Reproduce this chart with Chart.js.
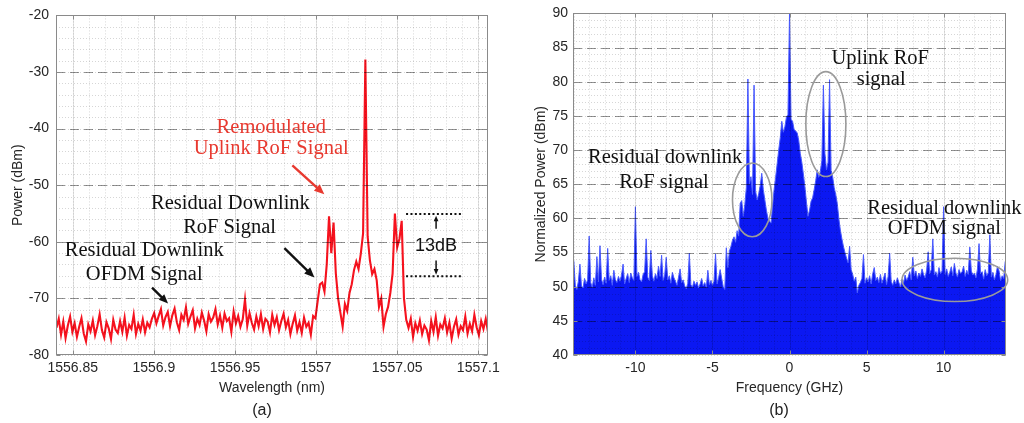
<!DOCTYPE html>
<html>
<head>
<meta charset="utf-8">
<script src="https://cdn.jsdelivr.net/npm/chart.js@4.4.0/dist/chart.umd.min.js"></script>
<style>
    body { margin: 0; background: #fff; }
    .panel { position: absolute; top: 0; width: 512px; height: 423px; }
    .cap { position: absolute; top: 410px; font: 16px "Liberation Sans", Arial, sans-serif; color: #222; transform: translate(-50%, -50%); }
</style>
</head>
<body>
<div class="panel" style="left:0"><canvas id="chartA" width="512" height="423"></canvas></div>
<div class="panel" style="left:512px"><canvas id="chartB" width="512" height="423"></canvas></div>
<div class="cap" style="left:262px">(a)</div>
<div class="cap" style="left:779px">(b)</div>
<script>
// ---- panel (a): optical spectrum, sampled every 0.0014 nm from 1556.84 nm
const wavelengthStart = 1556.84;
const wavelengthStep = 0.0014;
const powerDbm = [
    -75.2, -73.6, -76.4, -74.1, -77.0, -74.8, -73.2, -75.9, -74.4, -76.8,
    -75.0, -73.5, -76.2, -77.6, -74.6, -75.8, -73.9, -76.5, -74.9, -72.8,
    -75.6, -76.9, -74.2, -75.3, -77.2, -73.8, -75.5, -76.1, -74.0, -75.9,
    -73.4, -76.6, -74.7, -75.4, -72.9, -76.3, -74.5, -75.7, -73.7, -76.0,
    -74.3, -75.1, -73.6, -72.6, -74.4, -73.1, -71.9, -74.8, -73.3, -72.4,
    -74.9, -73.0, -71.8, -74.2, -75.6, -72.9, -73.8, -71.6, -74.5, -73.2,
    -72.1, -75.3, -73.6, -74.7, -72.5, -73.9, -75.8, -72.8, -74.1, -73.4,
    -71.9, -74.6, -73.0, -75.2, -72.7, -74.0, -73.5, -75.9, -72.3, -74.4,
    -73.1, -75.0, -73.7, -70.2, -74.8, -72.6, -74.3, -75.5, -73.2, -74.9,
    -72.8, -75.4, -73.6, -74.1, -76.0, -72.9, -74.7, -73.3, -75.6, -74.0,
    -72.7, -75.1, -73.8, -76.3, -74.5, -73.0, -75.7, -74.2, -76.1, -73.4,
    -75.0, -74.3, -76.4, -73.1, -73.5, -70.5, -67.5, -67.2, -68.8, -64.0,
    -55.5, -62.0, -56.6, -65.6, -70.0, -72.5, -75.0, -71.0, -72.2, -69.1,
    -67.5, -65.0, -63.5, -64.8, -62.1, -58.5, -27.8, -59.0, -63.3, -65.7,
    -64.8, -66.8, -71.5, -70.0, -75.0, -72.8, -71.5, -69.0, -65.6, -55.0,
    -61.0, -59.5, -56.3, -70.0, -73.8, -75.2, -73.6, -76.8, -74.4, -75.7,
    -73.9, -76.3, -74.8, -75.5, -77.4, -74.0, -75.9, -73.3, -76.6, -74.6,
    -75.3, -73.5, -76.0, -74.3, -77.1, -75.0, -73.7, -76.4, -74.9, -75.6,
    -73.2, -76.2, -74.5, -75.8, -72.9, -75.1, -76.5, -74.0, -75.4, -73.6, -75.9,
];
const wavelengthTicks = [1556.85, 1556.9, 1556.95, 1557, 1557.05, 1557.1];
const powerTicks = [-80, -70, -60, -50, -40, -30, -20];

// ---- panel (b): electrical spectrum, sampled every 0.1 GHz from -14 GHz
const freqStart = -14;
const freqStep = 0.1;
const normPowerDbm = [
    53.8, 50.2, 49.6, 50.8, 53.3, 50.1, 49.8, 51.2, 50.4, 51.0,
    57.4, 50.6, 49.9, 51.3, 50.2, 54.4, 50.7, 56.0, 51.1, 50.3,
    51.4, 50.5, 55.6, 50.9, 51.6, 50.2, 52.4, 51.0, 50.6, 51.5,
    50.8, 51.7, 53.3, 50.4, 51.2, 51.9, 50.6, 52.0, 51.3, 50.9,
    61.7, 51.5, 52.1, 51.0, 50.7, 51.8, 52.2, 57.0, 51.4, 50.9,
    55.3, 51.6, 50.8, 51.9, 51.2, 53.0, 51.5, 54.6, 50.9, 51.7,
    54.3, 51.0, 51.6, 50.5, 52.1, 51.3, 50.8, 50.2, 51.4, 52.6,
    50.6, 51.0, 50.1, 49.7, 50.5, 54.9, 50.3, 49.9, 50.8, 50.2,
    50.7, 49.8, 50.4, 51.2, 50.1, 50.6, 49.9, 52.4, 50.3, 50.9,
    50.2, 50.8, 54.8, 50.4, 51.3, 52.5, 51.2, 50.0, 49.6, 55.7,
    52.8, 55.2, 55.9, 56.8, 57.3, 56.5, 58.2, 57.4, 62.2, 62.6,
    60.3, 62.0, 64.5, 80.4, 65.0, 66.1, 63.5, 79.5, 64.0, 62.7,
    63.6, 64.8, 66.6, 64.2, 62.7, 61.2, 60.0, 59.6, 59.3, 61.8,
    64.2, 66.0, 68.0, 70.0, 71.8, 74.2, 72.6, 73.4, 74.8, 75.2,
    90.0, 74.5, 74.2, 73.0, 72.8, 72.5, 71.4, 69.5, 68.2, 66.5,
    64.6, 62.4, 60.3, 61.2, 62.5, 63.0, 64.2, 65.5, 67.1, 66.0,
    66.8, 68.5, 79.5, 69.5, 67.1, 68.2, 80.3, 67.0, 66.1, 64.5,
    63.5, 62.2, 60.0, 58.3, 57.0, 55.9, 55.0, 54.2, 53.5, 55.9,
    52.5, 51.8, 50.8, 51.4, 49.1, 50.2, 50.6, 51.2, 54.7, 50.5,
    51.3, 50.7, 51.6, 50.4, 51.9, 52.8, 50.9, 51.4, 50.6, 51.8,
    50.5, 51.2, 52.0, 50.3, 51.5, 54.9, 50.8, 50.2, 51.0, 50.4,
    51.3, 50.6, 49.9, 51.1, 50.5, 51.7, 50.9, 51.4, 52.2, 51.0,
    54.3, 51.6, 52.3, 51.2, 52.0, 51.5, 52.6, 51.8, 51.3, 52.4,
    55.1, 51.9, 52.5, 57.0, 51.7, 52.2, 51.4, 52.8, 51.9, 52.3,
    61.7, 51.8, 52.6, 51.5, 52.1, 52.9, 51.6, 53.4, 52.0, 51.4,
    52.5, 51.9, 52.2, 53.0, 51.5, 52.4, 51.8, 55.8, 52.3, 51.7,
    52.0, 51.3, 52.6, 56.3, 51.9, 52.2, 51.1, 52.5, 51.6, 52.0,
    57.6, 51.4, 52.1, 51.0, 51.8, 53.0, 52.3, 50.9, 51.6, 51.2, 53.7,
];
const freqTicks = [-10, -5, 0, 5, 10];
const normPowerTicks = [40, 45, 50, 55, 60, 65, 70, 75, 80, 85, 90];

const SANS = '"Liberation Sans", Arial, sans-serif';
const SERIF = '"Liberation Serif", "Times New Roman", serif';
const RED_TEXT = "#e8392f";
const NOTE_FONT = "20.5px " + SERIF;

Chart.defaults.font.family = SANS;
Chart.defaults.color = "#262626";

// notes drawn in data units of each panel
const notesA = [
    { type: "text", x: 1556.9724, y: -39.8, text: "Remodulated", color: RED_TEXT },
    { type: "text", x: 1556.9724, y: -43.5, text: "Uplink RoF Signal", color: RED_TEXT },
    { type: "arrow", x1: 1556.9854, y1: -46.5, x2: 1557.0051, y2: -51.6, color: RED_TEXT, head: 11 },
    { type: "text", x: 1556.9472, y: -53.3, text: "Residual Downlink" },
    { type: "text", x: 1556.9467, y: -57.5, text: "RoF Signal" },
    { type: "arrow", x1: 1556.9805, y1: -61.1, x2: 1556.999, y2: -66.3, head: 11 },
    { type: "text", x: 1556.8941, y: -61.6, text: "Residual Downlink" },
    { type: "text", x: 1556.8941, y: -65.8, text: "OFDM Signal" },
    { type: "arrow", x1: 1556.8989, y1: -68.1, x2: 1556.9088, y2: -70.9, head: 10 },
    { type: "dots", x1: 1557.0555, x2: 1557.0904, y: -55.1 },
    { type: "dots", x1: 1557.0555, x2: 1557.0904, y: -66.1 },
    { type: "arrow", x1: 1557.074, y1: -57.7, x2: 1557.074, y2: -55.4, head: 6 },
    { type: "arrow", x1: 1557.074, y1: -63.3, x2: 1557.074, y2: -65.8, head: 6 },
    { type: "text", x: 1557.074, y: -60.7, text: "13dB", font: "18px " + SANS },
];
const notesB = [
    { type: "text", x: -8.07, y: 68.85, text: "Residual downlink" },
    { type: "text", x: -8.14, y: 65.3, text: "RoF signal" },
    { type: "ellipse", x: -2.42, y: 62.7, rx: 1.28, ry: 5.4 },
    { type: "text", x: 5.89, y: 83.4, text: "Uplink RoF" },
    { type: "text", x: 5.95, y: 80.3, text: "signal" },
    { type: "ellipse", x: 2.36, y: 73.8, rx: 1.3, ry: 7.68 },
    { type: "text", x: 10.05, y: 61.5, text: "Residual downlink" },
    { type: "text", x: 10.05, y: 58.5, text: "OFDM signal" },
    { type: "ellipse", x: 10.73, y: 51.0, rx: 3.43, ry: 3.17 },
];

const stepValues = (min, max, step) => {
    const out = [];
    for (let k = Math.ceil(min / step - 1e-6); k * step <= max + 1e-9; k++) {
        out.push(k * step);
    }
    return out;
};

// matlab-like box, grid on top of the data, then the notes
const framePlugin = (cfg, notes) => ({
    id: "frame",
    afterDatasetsDraw(chart) {
        const { ctx, chartArea: a, scales: { x, y } } = chart;
        const px = (v) => Math.round(x.getPixelForValue(v)) + 0.5;
        const py = (v) => Math.round(y.getPixelForValue(v)) + 0.5;
        ctx.save();
        ctx.lineWidth = 1;

        // minor dotted grid
        ctx.strokeStyle = "rgba(0,0,0,0.16)";
        ctx.setLineDash([1, 2]);
        stepValues(x.min, x.max, cfg.xMinor).forEach((v) => {
            ctx.beginPath(); ctx.moveTo(px(v), a.top); ctx.lineTo(px(v), a.bottom); ctx.stroke();
        });
        stepValues(y.min, y.max, cfg.yMinor).forEach((v) => {
            ctx.beginPath(); ctx.moveTo(a.left, py(v)); ctx.lineTo(a.right, py(v)); ctx.stroke();
        });

        // major vertical lines, faint
        ctx.setLineDash([]);
        ctx.strokeStyle = "rgba(0,0,0,0.1)";
        cfg.xTicks.forEach((v) => {
            ctx.beginPath(); ctx.moveTo(px(v), a.top); ctx.lineTo(px(v), a.bottom); ctx.stroke();
        });

        // major dashed horizontal lines
        ctx.strokeStyle = "rgba(0,0,0,0.42)";
        ctx.setLineDash([9, 5]);
        cfg.yTicks.forEach((v) => {
            if (v <= y.min || v >= y.max) return;
            ctx.beginPath(); ctx.moveTo(a.left, py(v)); ctx.lineTo(a.right, py(v)); ctx.stroke();
        });

        // box and inward ticks
        ctx.setLineDash([]);
        ctx.strokeStyle = "#8a8a8a";
        const l = Math.round(a.left) + 0.5, r = Math.round(a.right) - 0.5;
        const t = Math.round(a.top) + 0.5, b = Math.round(a.bottom) - 0.5;
        ctx.strokeRect(l, t, r - l, b - t);
        ctx.beginPath();
        cfg.xTicks.forEach((v) => {
            ctx.moveTo(px(v), b); ctx.lineTo(px(v), b - 4);
            ctx.moveTo(px(v), t); ctx.lineTo(px(v), t + 4);
        });
        cfg.yTicks.forEach((v) => {
            ctx.moveTo(l, py(v)); ctx.lineTo(l + 4, py(v));
            ctx.moveTo(r, py(v)); ctx.lineTo(r - 4, py(v));
        });
        ctx.stroke();

        // notes
        notes.forEach((n) => {
            const color = n.color || "#111";
            ctx.strokeStyle = color;
            ctx.fillStyle = color;
            if (n.type === "text") {
                ctx.font = n.font || NOTE_FONT;
                ctx.textAlign = "center";
                ctx.textBaseline = "middle";
                ctx.fillText(n.text, x.getPixelForValue(n.x), y.getPixelForValue(n.y));
            } else if (n.type === "arrow") {
                const x1 = x.getPixelForValue(n.x1), y1 = y.getPixelForValue(n.y1);
                const x2 = x.getPixelForValue(n.x2), y2 = y.getPixelForValue(n.y2);
                const ang = Math.atan2(y2 - y1, x2 - x1);
                const h = n.head;
                ctx.lineWidth = h > 7 ? 2.4 : 1.5;
                ctx.beginPath();
                ctx.moveTo(x1, y1);
                ctx.lineTo(x2 - Math.cos(ang) * h * 0.8, y2 - Math.sin(ang) * h * 0.8);
                ctx.stroke();
                ctx.beginPath();
                ctx.moveTo(x2, y2);
                ctx.lineTo(x2 - h * Math.cos(ang - 0.4), y2 - h * Math.sin(ang - 0.4));
                ctx.lineTo(x2 - h * Math.cos(ang + 0.4), y2 - h * Math.sin(ang + 0.4));
                ctx.closePath();
                ctx.fill();
            } else if (n.type === "dots") {
                ctx.lineWidth = 2;
                ctx.setLineDash([2, 2.4]);
                ctx.beginPath();
                ctx.moveTo(x.getPixelForValue(n.x1), y.getPixelForValue(n.y));
                ctx.lineTo(x.getPixelForValue(n.x2), y.getPixelForValue(n.y));
                ctx.stroke();
                ctx.setLineDash([]);
            } else if (n.type === "ellipse") {
                const cx = x.getPixelForValue(n.x), cy = y.getPixelForValue(n.y);
                const rx = Math.abs(x.getPixelForValue(n.x + n.rx) - cx);
                const ry = Math.abs(y.getPixelForValue(n.y + n.ry) - cy);
                ctx.strokeStyle = "#9a9a9a";
                ctx.lineWidth = 1.6;
                ctx.beginPath();
                ctx.ellipse(cx, cy, rx, ry, 0, 0, Math.PI * 2);
                ctx.stroke();
            }
        });
        ctx.restore();
    },
});

const axis = (cfg) => ({
    type: "linear",
    min: cfg.min,
    max: cfg.max,
    grid: { display: false, drawTicks: false },
    border: { display: false },
    afterBuildTicks: (scale) => {
        scale.ticks = cfg.ticks.map((v) => ({ value: v }));
    },
    afterFit: cfg.fit,
    ticks: {
        autoSkip: false,
        maxRotation: 0,
        padding: cfg.pad,
        font: { size: 14 },
        color: "#262626",
        callback: (v) => String(Number(v.toFixed(2))),
    },
    title: {
        display: true,
        text: cfg.title,
        font: { size: 14 },
        color: "#262626",
        padding: cfg.titlePad,
    },
});

const spectrumA = powerDbm.map((p, i) => ({ x: wavelengthStart + i * wavelengthStep, y: p }));
const spectrumB = normPowerDbm.map((p, i) => ({ x: freqStart + i * freqStep, y: p }));

new Chart(document.getElementById("chartA"), {
    type: "line",
    data: {
        datasets: [
            {
                data: spectrumA,
                borderColor: "rgb(246, 18, 30)",
                borderWidth: 2.1,
                pointRadius: 0,
                tension: 0,
            },
        ],
    },
    options: {
        responsive: false,
        animation: false,
        layout: { padding: { top: 13, right: 24, left: 0, bottom: 0 } },
        plugins: { legend: { display: false }, tooltip: { enabled: false } },
        scales: {
            x: axis({
                min: 1556.8397, max: 1557.106, ticks: wavelengthTicks, pad: 5,
                title: "Wavelength (nm)", titlePad: { top: 0, bottom: 26 },
                fit: (s) => { s.height = 68; },
            }),
            y: axis({
                min: -80, max: -20, ticks: powerTicks, pad: 7,
                title: "Power (dBm)", titlePad: { top: 10, bottom: 0 },
                fit: (s) => { s.width = 56; },
            }),
        },
    },
    plugins: [framePlugin({ xMinor: 0.01, yMinor: 2, xTicks: wavelengthTicks, yTicks: powerTicks }, notesA)],
});

new Chart(document.getElementById("chartB"), {
    type: "line",
    data: {
        datasets: [
            {
                data: spectrumB,
                borderColor: "#4a5bff",
                backgroundColor: "#0b18f2",
                borderWidth: 1,
                fill: "start",
                pointRadius: 0,
                tension: 0,
            },
        ],
    },
    options: {
        responsive: false,
        animation: false,
        layout: { padding: { top: 13, right: 18, left: 0, bottom: 0 } },
        plugins: { legend: { display: false }, tooltip: { enabled: false } },
        scales: {
            x: axis({
                min: -14.05, max: 14.05, ticks: freqTicks, pad: 5,
                title: "Frequency (GHz)", titlePad: { top: 0, bottom: 26 },
                fit: (s) => { s.height = 68; },
            }),
            y: axis({
                min: 40, max: 90, ticks: normPowerTicks, pad: 5,
                title: "Normalized Power (dBm)", titlePad: { top: 21, bottom: 0 },
                fit: (s) => { s.width = 61; },
            }),
        },
    },
    plugins: [framePlugin({ xMinor: 1, yMinor: 1, xTicks: freqTicks, yTicks: normPowerTicks }, notesB)],
});
</script>
</body>
</html>
